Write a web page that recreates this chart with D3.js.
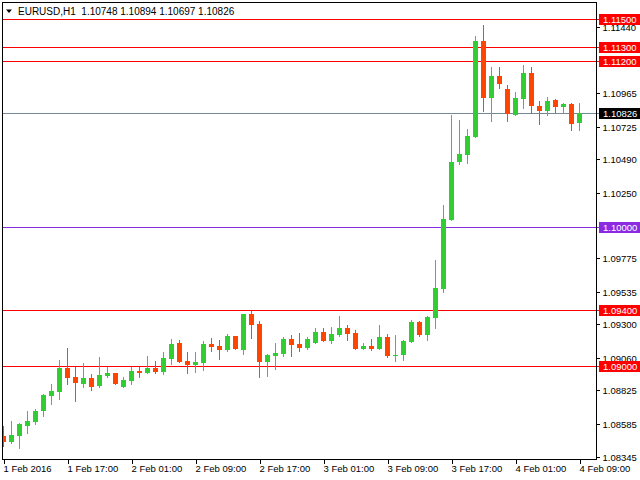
<!DOCTYPE html>
<html>
<head>
<meta charset="utf-8">
<script src="https://cdn.jsdelivr.net/npm/d3@7"></script>
<style>
  html, body { margin: 0; padding: 0; background: #fff; }
  svg { display: block; }
  text { font-family: "Liberation Sans", Arial, sans-serif; }
  line, rect, path { shape-rendering: crispEdges; }
</style>
</head>
<body>
<svg id="chart" width="640" height="480"></svg>
<script>
// ---- Data (EURUSD H1, 1 Feb 2016 09:00 .. 4 Feb 2016 09:00) ----
const openP = [1.08496,1.08454,1.08498,1.08570,1.08599,1.08678,1.08786,1.08815,1.08985,1.08921,
  1.08872,1.08913,1.08858,1.08930,1.08949,1.08851,1.08894,1.08966,1.08952,1.08985,
  1.08959,1.09053,1.09166,1.09036,1.09009,1.09024,1.09158,1.09144,1.09117,1.09216,
  1.09117,1.09375,1.09303,1.09031,1.09074,1.09089,1.09194,1.09158,1.09132,1.09168,
  1.09245,1.09182,1.09225,1.09274,1.09238,1.09125,1.09144,1.09125,1.09209,1.09072,
  1.09081,1.09175,1.09315,1.09223,1.09348,1.09557,1.10052,1.10470,1.10520,1.10650,
  1.11342,1.10931,1.11089,1.10996,1.10808,1.10926,1.11111,1.10873,1.10839,1.10916,
  1.10866,1.10888,1.10748];
const highP = [1.08568,1.08604,1.08587,1.08676,1.08690,1.08796,1.08870,1.09043,1.09130,1.08995,
  1.09021,1.08942,1.09065,1.08995,1.08952,1.08921,1.08995,1.08995,1.09072,1.09036,
  1.09101,1.09194,1.09187,1.09101,1.09101,1.09180,1.09202,1.09187,1.09230,1.09218,
  1.09377,1.09394,1.09322,1.09089,1.09166,1.09209,1.09223,1.09238,1.09209,1.09274,
  1.09274,1.09281,1.09360,1.09295,1.09259,1.09166,1.09194,1.09295,1.09230,1.09223,
  1.09187,1.09331,1.09324,1.09362,1.09764,1.10160,1.10808,1.10772,1.10707,1.11378,
  1.11457,1.11154,1.11154,1.11025,1.10974,1.11169,1.11154,1.10909,1.10938,1.10924,
  1.10895,1.10895,1.10894];
const lowP = [1.08424,1.08447,1.08411,1.08519,1.08584,1.08642,1.08728,1.08764,1.08872,1.08750,
  1.08851,1.08829,1.08849,1.08918,1.08870,1.08849,1.08868,1.08923,1.08950,1.08952,
  1.08944,1.09016,1.09031,1.08952,1.08959,1.08973,1.09110,1.09053,1.09110,1.09125,
  1.09089,1.09204,1.08923,1.08930,1.08980,1.09074,1.09074,1.09110,1.09125,1.09166,
  1.09180,1.09168,1.09218,1.09189,1.09125,1.09123,1.09117,1.09123,1.09067,1.09038,
  1.09045,1.09173,1.09216,1.09187,1.09276,1.09535,1.10050,1.10455,1.10462,1.10648,
  1.10839,1.10765,1.11003,1.10765,1.10806,1.10859,1.10825,1.10746,1.10810,1.10830,
  1.10830,1.10700,1.10697];
const closeP = [1.08454,1.08503,1.08582,1.08604,1.08676,1.08791,1.08820,1.08985,1.08916,1.08880,
  1.08913,1.08851,1.08935,1.08949,1.08872,1.08899,1.08964,1.08952,1.08985,1.08959,
  1.09058,1.09158,1.09031,1.09009,1.09029,1.09158,1.09139,1.09117,1.09216,1.09125,
  1.09375,1.09297,1.09031,1.09079,1.09094,1.09194,1.09153,1.09132,1.09194,1.09245,
  1.09182,1.09230,1.09274,1.09233,1.09125,1.09144,1.09125,1.09209,1.09074,1.09079,
  1.09180,1.09317,1.09223,1.09353,1.09562,1.10059,1.10470,1.10527,1.10657,1.11342,
  1.10931,1.11089,1.11032,1.10818,1.10931,1.11111,1.10875,1.10839,1.10909,1.10866,
  1.10888,1.10746,1.10826];

const xTickIdx = [0, 8, 16, 24, 32, 40, 48, 56, 64, 72];
const xTickLabels = ["1 Feb 2016","1 Feb 17:00","2 Feb 01:00","2 Feb 09:00","2 Feb 17:00",
  "3 Feb 01:00","3 Feb 09:00","3 Feb 17:00","4 Feb 01:00","4 Feb 09:00"];
const yTickValues = [1.11440,1.10965,1.10725,1.10490,1.10250,1.09775,1.09535,1.09300,
  1.09060,1.08825,1.08585,1.08345];

const redLevels = [1.11500, 1.11300, 1.11200, 1.09400, 1.09000];
const purpleLevels = [1.10000];
const currentPrice = [1.10826];

const symbol = "EURUSD,H1";
const headerValues = ["1.10748","1.10894","1.10697","1.10826"];

// ---- Layout ----
const plotL = 2, plotT = 2, plotR = 596, plotB = 459;

const svg = d3.select("#chart");

const x = d3.scaleLinear().domain([0, 72]).range([3.5, 579.5]);
const y = d3.scaleLinear().domain([1.08330, 1.116225]).range([plotB, plotT]);

const GREEN = "#32CD32", ORANGE = "#FF4500";

svg.append("defs").append("clipPath").attr("id", "plotclip")
  .append("rect").attr("x", plotL + 1).attr("y", plotT + 1)
  .attr("width", plotR - plotL - 1).attr("height", plotB - plotT - 1);

const py = v => Math.round(y(v)) + 0.5;

// level lines
const levels = svg.append("g");
function drawLevel(vals, color) {
  vals.forEach(v => {
    levels.append("rect")
      .attr("x", plotL).attr("width", plotR + 3 - plotL)
      .attr("y", Math.round(y(v))).attr("height", 1)
      .attr("fill", color);
  });
}
drawLevel(redLevels, "#FF0000");
drawLevel(purpleLevels, "#8A2BE2");
drawLevel(currentPrice, "#778899");

// candles
const candles = d3.range(openP.length).map(i => ({
  i, o: openP[i], h: highP[i], l: lowP[i], c: closeP[i]
}));
const cg = svg.append("g").attr("clip-path", "url(#plotclip)");
const cs = cg.selectAll("g.c").data(candles).enter().append("g");
cs.append("rect")
  .attr("x", d => x(d.i) - 0.5).attr("width", 1)
  .attr("y", d => Math.round(y(d.h)))
  .attr("height", d => Math.round(y(d.l)) - Math.round(y(d.h)) + 1)
  .attr("fill", d => d.c >= d.o ? GREEN : ORANGE);
cs.append("rect")
  .attr("x", d => x(d.i) - 2.5)
  .attr("width", 5)
  .attr("y", d => Math.round(y(Math.max(d.o, d.c))))
  .attr("height", d => Math.max(1, Math.round(y(Math.min(d.o, d.c))) - Math.round(y(Math.max(d.o, d.c)))))
  .attr("fill", d => d.c >= d.o ? GREEN : ORANGE);

// frame
svg.append("rect").attr("x", plotL).attr("y", plotT).attr("width", 1)
  .attr("height", plotB - plotT + 1).attr("fill", "#000");
svg.append("rect").attr("x", plotL).attr("y", plotT).attr("width", plotR - plotL + 1)
  .attr("height", 1).attr("fill", "#000");

// right axis
const yAxis = d3.axisRight(y).tickValues(yTickValues).tickSize(3)
  .tickFormat(d3.format(".5f"));
const ya = svg.append("g").attr("transform", `translate(${plotR + 0.5},0)`).call(yAxis);
ya.select(".domain").attr("d", `M0,${plotT}V${plotB + 1}`).attr("stroke", "#000");
ya.selectAll(".tick").attr("transform", d => `translate(0,${py(d)})`);
ya.selectAll(".tick line").attr("stroke", "#000");
ya.selectAll(".tick text").attr("x", 6).attr("dy", "0.35em")
  .attr("fill", "#000").style("font-size", "9.5px")
  .style("font-family", "'Liberation Sans', Arial, sans-serif");

// bottom axis
const xAxis = d3.axisBottom(x).tickValues(xTickIdx).tickSize(4)
  .tickFormat((d, i) => xTickLabels[i]);
const xa = svg.append("g").attr("transform", `translate(0,${plotB + 0.5})`).call(xAxis);
xa.select(".domain").attr("d", `M${plotL},0H${plotR + 1}`).attr("stroke", "#000");
xa.selectAll(".tick").attr("transform", d => `translate(${Math.round(x(d)) + 0.5},0)`);
xa.selectAll(".tick line").attr("stroke", "#000");
xa.selectAll(".tick text").attr("text-anchor", "start").attr("x", -1).attr("y", 6)
  .attr("dy", "0.71em").attr("fill", "#000").style("font-size", "9.5px")
  .style("font-family", "'Liberation Sans', Arial, sans-serif");

// price labels on right (drawn over axis tick labels, as in the terminal)
const labelG = svg.append("g");
function priceLabel(v, bg) {
  const yy = Math.round(y(v));
  labelG.append("rect").attr("x", 599).attr("y", yy - 5).attr("width", 41).attr("height", 11)
    .attr("fill", bg);
  labelG.append("text").attr("x", 603).attr("y", yy + 0.5).attr("dy", "0.35em")
    .attr("fill", "#fff").style("font-size", "9.5px").text(d3.format(".5f")(v));
}
redLevels.forEach(v => priceLabel(v, "#FF0000"));
purpleLevels.forEach(v => priceLabel(v, "#8A2BE2"));
currentPrice.forEach(v => priceLabel(v, "#000000"));

// header
svg.append("path").attr("d", "M6,9.5L12,9.5L9,13Z").attr("fill", "#000")
  .style("shape-rendering", "auto");
svg.append("text").attr("x", 18).attr("y", 14.5).style("font-size", "10px")
  .attr("fill", "#000").attr("xml:space", "preserve")
  .text(symbol + "  " + headerValues.join(" "));
</script>
</body>
</html>
